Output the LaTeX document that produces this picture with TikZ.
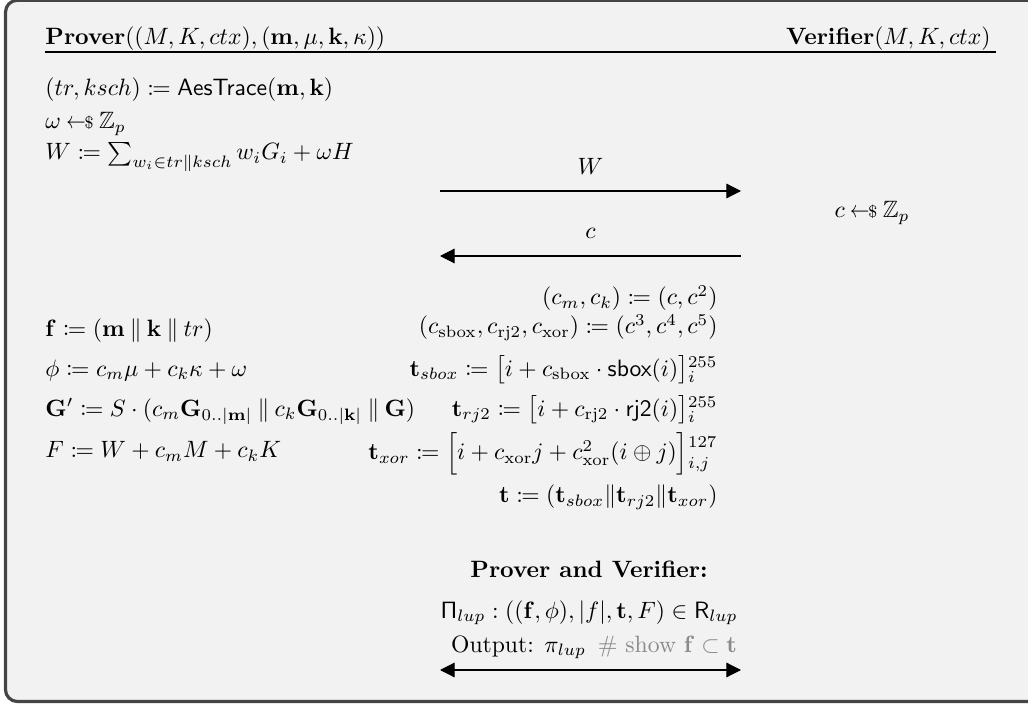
\documentclass[tikz,border=0pt]{standalone}
\usepackage{amsmath,amssymb,mathtools}
\usetikzlibrary{arrows.meta}
\definecolor{framebg}{HTML}{F2F2F2}
\definecolor{framedk}{HTML}{454545}
\definecolor{cmtgray}{HTML}{8A8A8A}
\newcommand{\smp}{\mathbin{\scalebox{0.82}[1]{$\leftarrow$}\mkern-1mu{\scriptstyle\$}}}
\newcommand{\rsup}[2]{{}^{\raisebox{#1}{$\scriptstyle #2$}}}
\newcommand{\rsub}[2]{{}_{\raisebox{#1}{$\scriptstyle #2$}}}
\tikzset{
  lft/.style={anchor=base west, inner sep=0pt},
  rgt/.style={anchor=base east, inner sep=0pt},
  ctr/.style={anchor=base, inner sep=0pt},
  rule/.style={line width=0.45pt},
  msg/.style={line width=0.5pt, -{Triangle[length=6.2pt,width=6.2pt]}},
  msgl/.style={line width=0.5pt, {Triangle[length=6.2pt,width=6.2pt]}-},
  msgb/.style={line width=0.5pt, {Triangle[length=6.2pt,width=6.2pt]}-{Triangle[length=6.2pt,width=6.2pt]}},
}
\begin{document}
\begin{tikzpicture}[x=0.4232pt,y=-0.4232pt]
\useasboundingbox (0,0) rectangle (1028,704);
\begin{scope}
\clip (0,0) rectangle (1028,704);
\draw[fill=framebg, draw=framedk, line width=1.35pt, rounded corners=5pt] (5.5,0.3) rectangle (1050,701.5);
\end{scope}
% header
\node[lft] (hP) at (45,45) {$\textbf{Prover}((M, K, ctx), (\mathbf{m}, \mu, \mathbf{k}, \kappa))$};
\node[rgt] (hV) at (991,45) {$\textbf{Verifier}(M, K, ctx)$};
\coordinate (uL) at (45,52);
\coordinate (uR) at (996,52);
\draw[rule] (uL) -- (uR);
% prover first block
\node[lft] (aes) at (45,96) {$(tr, ksch) \coloneqq \mathsf{AesTrace}(\mathbf{m}, \mathbf{k})$};
\node[lft] (om) at (45,129) {$\omega \smp \mathbb{Z}_p$};
\node[lft] (Wdef) at (45,160) {$W \coloneqq \sum_{w_i \in tr \| ksch} w_i G_i + \omega H$};
% messages
\coordinate (a1L) at (440,191);
\coordinate (a1R) at (741,191);
\draw[msg] (a1L) -- (a1R) node[midway, anchor=base, inner sep=0pt, yshift=6.8pt] (lW) {$W$};
\node[ctr] (cs) at (872,218) {$c \smp \mathbb{Z}_p$};
\coordinate (a2L) at (440,256);
\coordinate (a2R) at (741,256);
\draw[msgl] (a2L) -- (a2R) node[midway, anchor=base, inner sep=0pt, yshift=7.6pt] (lc) {$c$};
% right column
\node[rgt] (r1) at (718,305) {$(c_m, c_k) \coloneqq (c, c^2)$};
\node[rgt] (r2) at (718,334) {$(c_{\mathrm{sbox}}, c_{\mathrm{rj2}}, c_{\mathrm{xor}}) \coloneqq (c^3, c^4, c^5)$};
\node[rgt] (r3) at (718,376) {$\mathbf{t}_{sbox} \coloneqq \big[i + c_{\mathrm{sbox}} \cdot \mathsf{sbox}(i)\big]{}_i^{255}$};
\node[rgt] (r4) at (718,416) {$\mathbf{t}_{rj2} \coloneqq \big[i + c_{\mathrm{rj2}} \cdot \mathsf{rj2}(i)\big]{}_i^{255}$};
\node[rgt] (r5) at (718,460) {$\mathbf{t}_{xor} \coloneqq \Big[i + c_{\mathrm{xor}} j + c_{\mathrm{xor}}^2 (i \oplus j)\Big]{}^{\raisebox{1.7pt}{$\scriptstyle 127$}}_{\raisebox{-1.1pt}{$\scriptstyle i,j$}}$};
\node[rgt] (r6) at (718,503) {$\mathbf{t} \coloneqq (\mathbf{t}_{sbox} \| \mathbf{t}_{rj2} \| \mathbf{t}_{xor})$};
% left column
\node[lft] (l1) at (45,336) {$\mathbf{f} \coloneqq (\mathbf{m} \mathbin{\|} \mathbf{k} \mathbin{\|} tr)$};
\node[lft] (l2) at (45,376) {$\phi \coloneqq c_m\mu + c_k\kappa + \omega$};
\node[lft] (l3) at (45,416) {$\mathbf{G}' \coloneqq S \cdot (c_m \mathbf{G}_{0..|\mathbf{m}|} \mathbin{\|} c_k \mathbf{G}_{0..|\mathbf{k}|} \mathbin{\|} \mathbf{G})$};
\node[lft] (l4) at (45,458) {$F \coloneqq W + c_m M + c_k K$};
% joint
\node[ctr] (pv) at (589,577) {\textbf{Prover and Verifier:}};
\node[ctr] (pi) at (589,618) {$\mathsf{\Pi}_{lup} : ((\mathbf{f}, \phi), |f|, \mathbf{t}, F) \in \mathsf{R}_{lup}$};
\node[ctr] (out) at (594,652) {Output: $\pi_{lup}$\enspace{\color{cmtgray}\# show $\mathbf{f} \subset \mathbf{t}$}};
\coordinate (a3L) at (440,670);
\coordinate (a3R) at (741,670);
\draw[msgb] (a3L) -- (a3R);
\end{tikzpicture}
\end{document}
